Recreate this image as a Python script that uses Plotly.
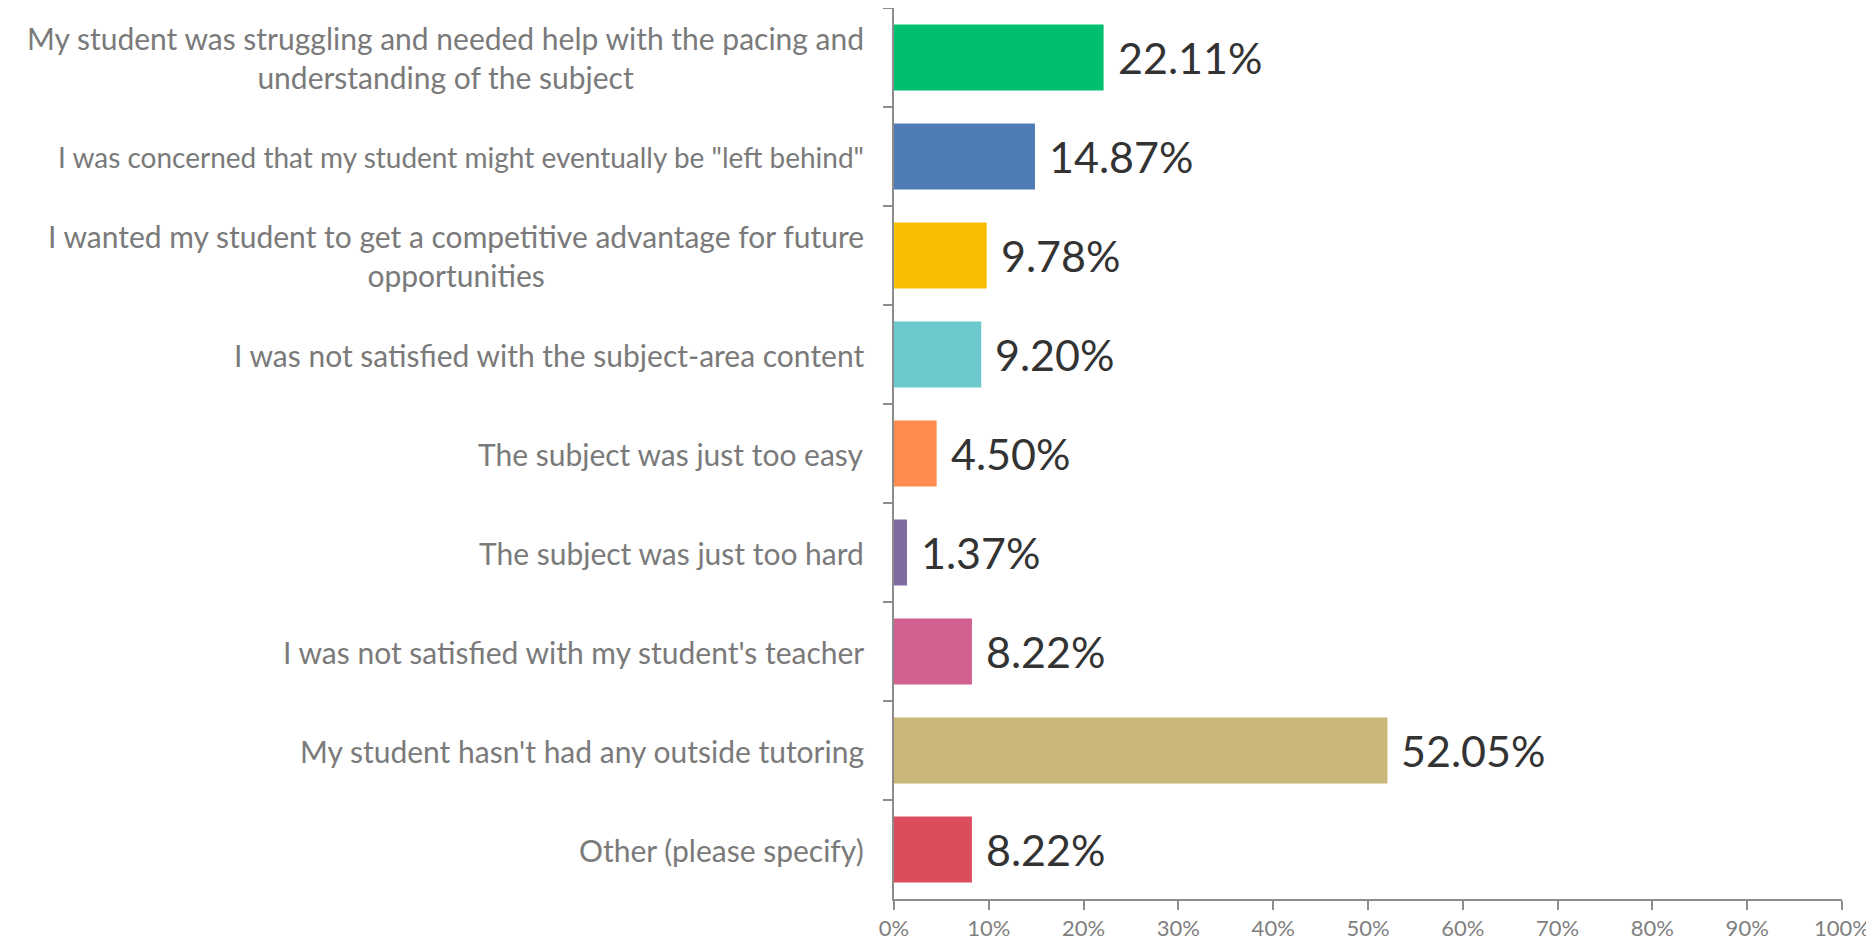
import plotly.graph_objects as go

categories = [
    "My student was struggling and needed help with the pacing and<br>understanding of the subject",
    "I was concerned that my student might eventually be \"left behind\"",
    "I wanted my student to get a competitive advantage for future<br>opportunities",
    "I was not satisfied with the subject-area content",
    "The subject was just too easy",
    "The subject was just too hard",
    "I was not satisfied with my student's teacher",
    "My student hasn't had any outside tutoring",
    "Other (please specify)",
]
values = [22.11, 14.87, 9.78, 9.20, 4.50, 1.37, 8.22, 52.05, 8.22]
colors = ["#00BF6F", "#507CB6", "#F9BE00", "#6BC8CD", "#FF8B4F",
          "#7F6AA1", "#D25F90", "#C9B77A", "#DB4D5C"]
tick_vals = list(range(0, 101, 10))
tick_text = [f"{v}%" for v in tick_vals]

keys = [f"c{i}" for i in range(len(categories))]

fig = go.Figure(go.Bar(
    x=values, y=keys, orientation="h",
    marker=dict(color=colors, line=dict(width=0)),
    hoverinfo="skip",
))

annotations = []
for k, cat, v in zip(keys, categories, values):
    size = 28 if len(cat) > 60 and "<br>" not in cat else 30
    annotations.append(dict(
        x=0, xref="paper", y=k, yref="y", text=cat, showarrow=False,
        xanchor="right", yanchor="middle", align="center", xshift=-28,
        font=dict(family="Lato", size=size, color="#7A7A7A"),
    ))
    annotations.append(dict(
        x=v, xref="x", y=k, yref="y", text=f"{v:.2f}%", showarrow=False,
        xanchor="left", yanchor="middle", xshift=12,
        font=dict(family="Lato", size=43, color="#333333"),
    ))

fig.update_layout(
    width=1866, height=944,
    margin=dict(l=886, r=32, t=0, b=53),
    paper_bgcolor="white", plot_bgcolor="white",
    bargap=0.333,
    showlegend=False,
    annotations=annotations,
    xaxis=dict(
        range=[0, 100], tickvals=tick_vals, ticktext=tick_text,
        showgrid=False, zeroline=False,
        showline=True, linecolor="#8C8C8C", linewidth=2,
        ticks="outside", ticklen=9, tickcolor="#8C8C8C", tickwidth=2,
        tickfont=dict(family="Lato", size=22, color="#7F7F7F"),
    ),
    yaxis=dict(
        categoryorder="array", categoryarray=keys,
        autorange="reversed",
        showticklabels=False, showgrid=False, zeroline=False,
        showline=True, linecolor="#8C8C8C", linewidth=2,
        ticks="outside", ticklen=9, tickcolor="#8C8C8C", tickwidth=2,
        tickson="boundaries",
    ),
)

fig.write_html("out.html")
